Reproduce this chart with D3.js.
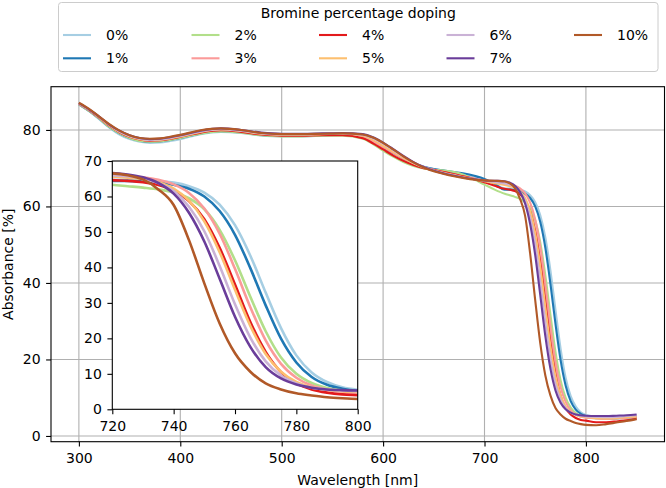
<!DOCTYPE html>
<html><head><meta charset="utf-8">
<script src="https://cdn.jsdelivr.net/npm/d3@7/dist/d3.min.js"></script>
<style>
body{margin:0;background:#fff}
svg{display:block}
text{font-family:"DejaVu Sans",sans-serif;fill:#000}
</style>
</head><body>
<svg id="chart" width="666" height="488"></svg>
<script>
// ---------------- DATA ----------------
const wavelengths = [300,310,320,330,340,350,360,370,380,390,400,420,440,460,480,500,520,540,560,580,590,600,610,620,630,640,650,660,670,680,690,700,710,
  720,725,730,735,740,745,750,755,760,765,770,775,780,785,790,795,800,
  810,820,830,840,850];

const seriesLabels = ["0%","1%","2%","3%","4%","5%","6%","7%","10%"];
const seriesColors = ["#a6cee3","#1f78b4","#b2df8a","#fb9a99","#e31a1c","#fdbf6f","#cab2d6","#6a3d9a","#b15928"];

const br0 = [86.6,84.9,82.8,80.6,78.8,77.6,76.9,76.6,76.7,77.1,77.6,78.9,79.5,79.2,78.5,78.3,78.3,78.5,78.7,78.1,77.0,75.4,73.9,72.4,71.2,70.4,69.8,69.3,68.8,68.3,67.7,66.9,65.9,
  64.7,64.7,64.6,64.3,63.9,62.9,61.1,57.7,51.9,43.3,32.9,22.9,15.2,10.4,7.7,6.2,5.5,
  5.0,4.7,4.7,4.8,5.0];
const br1 = [86.7,85.0,83.0,80.8,79.1,77.9,77.2,76.9,77.0,77.4,77.9,79.1,79.7,79.4,78.7,78.4,78.4,78.6,78.8,78.2,77.1,75.6,74.0,72.5,71.2,70.4,69.8,69.4,69.0,68.6,68.0,67.2,65.9,
  64.4,64.4,64.2,63.9,63.3,62.2,60.0,55.9,49.2,39.8,29.3,19.9,13.2,9.1,6.9,5.8,5.2,
  4.8,4.6,4.6,4.8,5.0];
const br2 = [86.7,85.0,83.0,80.8,79.1,77.9,77.1,76.9,77.0,77.4,77.9,79.0,79.6,79.3,78.6,78.3,78.3,78.5,78.5,77.7,76.3,74.6,73.0,71.6,70.6,69.9,69.6,69.4,69.0,68.2,67.0,65.7,64.4,
  63.3,62.9,62.5,62.0,61.1,59.5,56.4,50.6,42.0,31.7,22.0,14.6,10.0,7.4,6.0,5.3,4.9,
  4.6,4.5,4.6,4.8,5.0];
const br3 = [86.8,85.2,83.2,81.1,79.4,78.2,77.5,77.2,77.3,77.7,78.2,79.4,80.0,79.6,78.9,78.6,78.6,78.8,78.9,78.2,77.0,75.5,74.0,72.5,71.2,70.3,69.6,69.0,68.4,67.8,67.3,66.8,66.3,
  65.8,65.7,65.4,64.7,63.4,61.0,56.6,49.5,39.6,28.8,19.4,12.8,8.9,6.7,5.6,5.0,4.8,
  4.6,4.5,4.6,4.8,5.0];
const br4 = [86.8,85.2,83.2,81.1,79.4,78.2,77.5,77.2,77.3,77.7,78.2,79.3,79.9,79.5,78.8,78.5,78.5,78.6,78.6,77.8,76.5,74.9,73.3,71.9,70.8,70.0,69.5,69.0,68.4,67.8,67.1,66.3,65.4,
  64.6,64.4,64.0,63.2,61.6,58.7,53.6,45.5,35.2,24.6,16.2,10.5,7.3,5.6,4.7,4.2,4.0,
  3.6,3.6,3.8,4.1,4.5];
const br5 = [86.9,85.3,83.3,81.2,79.5,78.3,77.6,77.3,77.4,77.8,78.3,79.5,80.1,79.7,79.0,78.7,78.7,78.9,79.0,78.5,77.4,75.9,74.3,72.7,71.3,70.2,69.4,68.8,68.2,67.6,67.1,66.6,66.1,
  65.6,65.3,64.9,64.0,62.2,58.8,53.0,44.3,33.7,23.5,15.6,10.6,7.7,6.2,5.5,5.1,4.9,
  4.7,4.6,4.7,4.9,5.1];
const br6 = [86.9,85.3,83.4,81.3,79.6,78.4,77.7,77.4,77.5,77.9,78.4,79.6,80.2,79.8,79.1,78.8,78.8,79.0,79.1,78.7,77.8,76.4,74.7,73.0,71.5,70.3,69.4,68.7,68.1,67.5,67.1,66.7,66.4,
  66.0,65.7,65.1,63.8,61.5,57.1,50.2,40.4,29.6,20.2,13.5,9.5,7.3,6.1,5.6,5.3,5.1,
  5.0,4.9,5.0,5.2,5.4];
const br7 = [87.0,85.4,83.5,81.4,79.8,78.6,77.9,77.6,77.7,78.1,78.6,79.8,80.4,80.0,79.3,79.0,79.0,79.1,79.2,78.9,78.1,76.7,75.0,73.2,71.6,70.3,69.3,68.6,68.0,67.5,67.1,66.8,66.7,
  66.6,66.2,65.4,63.8,60.8,55.4,47.3,36.8,26.1,17.6,11.9,8.7,7.0,6.1,5.6,5.4,5.3,
  5.2,5.2,5.3,5.4,5.6];
const br10 = [87.1,85.5,83.5,81.5,79.8,78.6,77.9,77.7,77.8,78.2,78.7,79.9,80.4,80.0,79.2,78.9,78.9,79.0,79.1,78.8,78.0,76.6,74.9,73.1,71.5,70.2,69.2,68.5,67.9,67.4,67.0,66.8,66.7,
  66.5,66.0,64.8,62.0,57.6,47.7,35.5,24.2,15.8,10.6,7.3,5.6,4.5,3.9,3.4,3.1,2.9,
  2.8,3.1,3.5,3.9,4.4];

const seriesValues = [br0,br1,br2,br3,br4,br5,br6,br7,br10];

const mainXTicks = [300,400,500,600,700,800];
const mainYTicks = [0,20,40,60,80];
const insetXTicks = [720,740,760,780,800];
const insetYTicks = [0,10,20,30,40,50,60,70];

const legendTitle = "Bromine percentage doping";
const xLabel = "Wavelength [nm]";
const yLabel = "Absorbance [%]";

// ---------------- DRAW ----------------
const svg = d3.select("#chart");
const FS = 14;

const series = seriesLabels.map((lab,i)=>({
  label: lab, color: seriesColors[i],
  pts: wavelengths.map((w,j)=>({x:w,y:seriesValues[i][j]}))
}));

// main axes
const M = {l:51, r:664.5, t:86.7, b:441.7};
const x = d3.scaleLinear().domain([272.5,877.5]).range([M.l,M.r]);
const y = d3.scaleLinear().domain([-1.5,91.3]).range([M.b,M.t]);

const gMain = svg.append("g");
// grid
gMain.append("g").selectAll("line").data(mainXTicks).join("line")
  .attr("x1",d=>x(d)).attr("x2",d=>x(d)).attr("y1",M.t).attr("y2",M.b)
  .attr("stroke","#b0b0b0").attr("stroke-width",1.1);
gMain.append("g").selectAll("line").data(mainYTicks).join("line")
  .attr("x1",M.l).attr("x2",M.r).attr("y1",d=>y(d)).attr("y2",d=>y(d))
  .attr("stroke","#b0b0b0").attr("stroke-width",1.1);

const line = d3.line().x(d=>x(d.x)).y(d=>y(d.y)).curve(d3.curveMonotoneX);
gMain.append("g").selectAll("path").data(series).join("path")
  .attr("d",d=>line(d.pts)).attr("fill","none")
  .attr("stroke",d=>d.color).attr("stroke-width",2.1)
  .attr("stroke-linejoin","round");

// axes
const ax = gMain.append("g").attr("transform",`translate(0,${M.b})`)
  .call(d3.axisBottom(x).tickValues(mainXTicks).tickSize(4.9).tickPadding(6.5).tickSizeOuter(0));
const ay = gMain.append("g").attr("transform",`translate(${M.l},0)`)
  .call(d3.axisLeft(y).tickValues(mainYTicks).tickSize(4.9).tickPadding(5.5).tickSizeOuter(0));
[ax,ay].forEach(a=>{
  a.select(".domain").remove();
  a.selectAll("line").attr("stroke","#000").attr("stroke-width",1.1);
  a.selectAll("text").attr("font-size",FS).attr("font-family","DejaVu Sans").attr("fill","#000");
});
gMain.append("rect").attr("x",M.l).attr("y",M.t).attr("width",M.r-M.l).attr("height",M.b-M.t)
  .attr("fill","none").attr("stroke","#000").attr("stroke-width",1.1);

svg.append("text").attr("x",(M.l+M.r)/2).attr("y",485).attr("text-anchor","middle")
  .attr("font-size",FS).text(xLabel);
svg.append("text").attr("transform",`translate(13,${(M.t+M.b)/2}) rotate(-90)`)
  .attr("text-anchor","middle").attr("font-size",FS).text(yLabel);

// inset
const I = {l:112.3, r:357.7, t:161, b:409.3};
const xi = d3.scaleLinear().domain([720,800]).range([I.l,I.r]);
const yi = d3.scaleLinear().domain([0,70]).range([I.b,I.t]);
const gIn = svg.append("g");
gIn.append("rect").attr("x",I.l).attr("y",I.t).attr("width",I.r-I.l).attr("height",I.b-I.t).attr("fill","#fff");
svg.append("defs").append("clipPath").attr("id","clipI").append("rect")
  .attr("x",I.l).attr("y",I.t).attr("width",I.r-I.l).attr("height",I.b-I.t);
const lineI = d3.line().x(d=>xi(d.x)).y(d=>yi(d.y)).curve(d3.curveMonotoneX);
gIn.append("g").attr("clip-path","url(#clipI)").selectAll("path").data(series).join("path")
  .attr("d",d=>lineI(d.pts.filter(p=>p.x>=710 && p.x<=810))).attr("fill","none")
  .attr("stroke",d=>d.color).attr("stroke-width",2.6).attr("stroke-linejoin","round");
const axi = gIn.append("g").attr("transform",`translate(0,${I.b})`)
  .call(d3.axisBottom(xi).tickValues(insetXTicks).tickSize(4.9).tickPadding(6.5).tickSizeOuter(0));
const ayi = gIn.append("g").attr("transform",`translate(${I.l},0)`)
  .call(d3.axisLeft(yi).tickValues(insetYTicks).tickSize(4.9).tickPadding(5.5).tickSizeOuter(0));
[axi,ayi].forEach(a=>{
  a.select(".domain").remove();
  a.selectAll("line").attr("stroke","#000").attr("stroke-width",1.1);
  a.selectAll("text").attr("font-size",FS).attr("font-family","DejaVu Sans").attr("fill","#000");
});
gIn.append("rect").attr("x",I.l).attr("y",I.t).attr("width",I.r-I.l).attr("height",I.b-I.t)
  .attr("fill","none").attr("stroke","#000").attr("stroke-width",1.1);

// legend
const L = {l:58.5, r:658, t:2.5, b:71.5};
const gL = svg.append("g");
gL.append("rect").attr("x",L.l).attr("y",L.t).attr("width",L.r-L.l).attr("height",L.b-L.t)
  .attr("rx",3).attr("fill","#fff").attr("fill-opacity",0.8).attr("stroke","#cccccc").attr("stroke-width",1);
gL.append("text").attr("x",(L.l+L.r)/2).attr("y",18.3).attr("text-anchor","middle")
  .attr("font-size",FS).text(legendTitle);
const colX = [63,191.5,319,446.5,574];
const rowY = [35,58.3];
const items = gL.selectAll("g.item").data(series).join("g").attr("class","item")
  .attr("transform",(d,i)=>`translate(${colX[Math.floor(i/2)]},${rowY[i%2]})`);
items.append("line").attr("x1",0).attr("x2",28).attr("y1",0).attr("y2",0)
  .attr("stroke",d=>d.color).attr("stroke-width",2.1);
items.append("text").attr("x",43).attr("y",5).attr("font-size",FS).text(d=>d.label);
</script>
</body></html>
